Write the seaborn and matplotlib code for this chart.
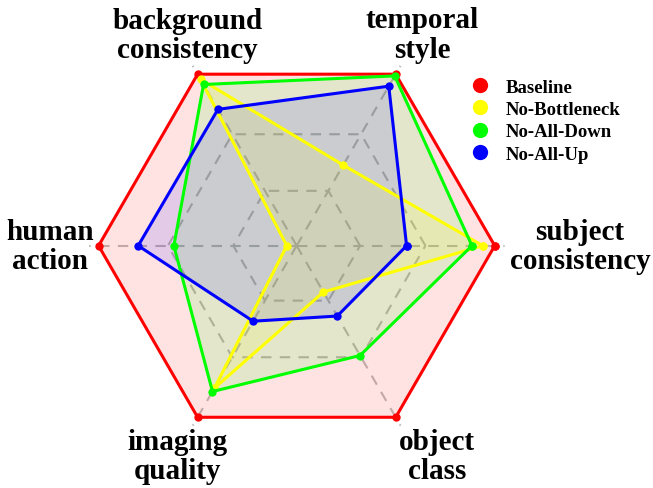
import numpy as np
import pandas as pd
import matplotlib
matplotlib.use("Agg")
import matplotlib.pyplot as plt
import seaborn as sns
from matplotlib.lines import Line2D

# axes go counter-clockwise starting at the right
categories = ["subject\nconsistency", "temporal\nstyle", "background\nconsistency",
              "human\naction", "imaging\nquality", "object\nclass"]
baseline = [1.00, 1.00, 1.00, 1.00, 1.00, 1.00]
no_bottleneck = [0.94, 0.47, 0.97, 0.05, 0.83, 0.27]
no_all_down = [0.885, 0.99, 0.94, 0.62, 0.85, 0.64]
no_all_up = [0.555, 0.93, 0.795, 0.80, 0.44, 0.41]

series_names = ["Baseline", "No-Bottleneck", "No-All-Down", "No-All-Up"]
series_vals = [baseline, no_bottleneck, no_all_down, no_all_up]
colors = ["#ff0000", "#ffff00", "#00ff00", "#0000ff"]
draw_order = [0, 2, 3, 1]

# where the axis names sit (angle in degrees, radius)
label_deg = [0, 59.3, 117.4, 180, 240.4, 303.7]
label_r = [1.43, 1.24, 1.20, 1.245, 1.22, 1.275]
grid_levels = [0.32, 0.65]

sns.set_style("white")
plt.rcParams['font.family'] = ['Liberation Serif', 'DejaVu Serif']
plt.rcParams['text.color'] = 'black'

n = len(categories)
theta = np.arange(n) * 2 * np.pi / n

fig = plt.figure(figsize=(6.53, 4.89), dpi=100)
ax = fig.add_axes([0.1358, 0.0701, 0.637, 0.8507], projection='polar')
ax.grid(False)
ax.spines['polar'].set_visible(False)

th_closed = np.append(theta, theta[0])

# hexagonal dashed grid and spokes
for lv in grid_levels:
    ax.plot(th_closed, [lv] * (n + 1), color='#bdbdbd', ls=(0, (5, 4)), lw=1.5, zorder=1)
for t in theta:
    ax.plot([t, t], [0, 1.05], color='#bdbdbd', ls=(0, (5, 4)), lw=1.5, zorder=1)

for i in draw_order:
    vals = series_vals[i]
    df = pd.DataFrame({"theta": th_closed, "r": vals + [vals[0]]})
    ax.fill(df["theta"], df["r"], color=colors[i], alpha=0.11, lw=0, zorder=2)
    sns.lineplot(data=df, x="theta", y="r", sort=False, estimator=None, ax=ax,
                 color=colors[i], lw=2.2, marker='o', markersize=6,
                 markeredgewidth=0, zorder=3 + i)

ax.set_xlabel("")
ax.set_ylabel("")
ax.set_xticks([])
ax.set_yticks([])
ax.set_ylim(0, 1.05)

for d, lab, r in zip(label_deg, categories, label_r):
    ax.text(np.deg2rad(d), r, lab, ha='center', va='center', fontsize=21,
            fontweight='bold', color='black', linespacing=1.1, clip_on=False)

handles = [Line2D([], [], ls='none', marker='o', markersize=11, color=c, markeredgewidth=0)
           for c in colors]
fig.legend(handles, series_names, loc='upper left', bbox_to_anchor=(0.692, 0.872),
           frameon=False, prop={'weight': 'bold', 'size': 13.5}, handletextpad=0.75,
           labelspacing=0.28, handlelength=1.2, labelcolor='black')

fig.savefig("out.png", dpi=100)
